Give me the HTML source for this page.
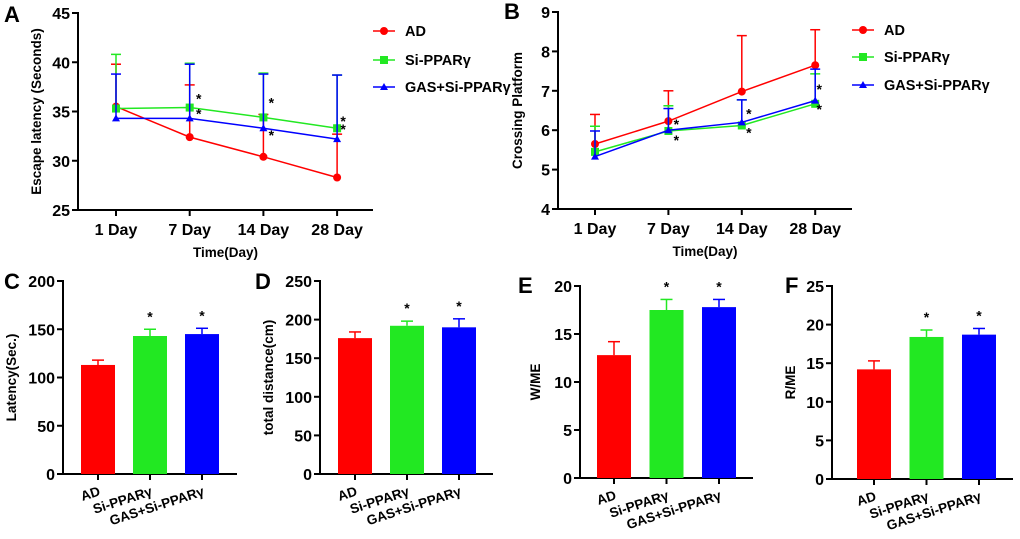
<!DOCTYPE html>
<html><head><meta charset="utf-8"><style>
body{margin:0;background:#fff;}
svg{display:block;font-family:"Liberation Sans",Arial,sans-serif;font-weight:bold;}
</style></head><body>
<svg id="fig" width="1020" height="539" viewBox="0 0 1020 539" xmlns="http://www.w3.org/2000/svg"></svg>
<script>
// ---- data ----
const days = ["1 Day","7 Day","14 Day","28 Day"];
const seriesNames = ["AD","Si-PPARγ","GAS+Si-PPARγ"];
const colors = ["#ff0000","#22e822","#0000ff"];
const aAD = [35.5,32.4,30.4,28.3];
const aADErr = [39.8,37.7,34.7,32.7];
const aSi = [35.3,35.4,34.4,33.3];
const aSiErr = [40.8,39.9,38.9,38.7];
const aGAS = [34.3,34.3,33.3,32.2];
const aGASErr = [38.8,39.8,38.8,38.7];
const aTicks = [25,30,35,40,45];
const bAD = [5.65,6.23,6.98,7.65];
const bADErr = [6.4,7.0,8.4,8.55];
const bSi = [5.45,5.98,6.12,6.67];
const bSiErr = [6.1,6.62,6.77,7.43];
const bGAS = [5.33,6.0,6.2,6.75];
const bGASErr = [5.98,6.55,6.77,7.55];
const bTicks = [4,5,6,7,8,9];
const groups = ["AD","Si-PPARγ","GAS+Si-PPARγ"];
const cVals = [113,143,145], cErr = [118,150,151], cTicks=[0,50,100,150,200];
const dVals = [176,192,190], dErr = [184,198,201], dTicks=[0,50,100,150,200,250];
const eVals = [12.8,17.5,17.8], eErr = [14.2,18.6,18.6], eTicks=[0,5,10,15,20];
const fVals = [14.2,18.4,18.7], fErr = [15.3,19.3,19.5], fTicks=[0,5,10,15,20,25];

const svg = document.getElementById('fig');
const NS = "http://www.w3.org/2000/svg";
function el(tag, attrs, parent, text){
  const e = document.createElementNS(NS, tag);
  for (const k in attrs) e.setAttribute(k, attrs[k]);
  if (text !== undefined) e.textContent = text;
  (parent||svg).appendChild(e);
  return e;
}
function txt(x,y,s,size,anchor,parent,extra){
  const t = el('text',Object.assign({x:x,y:y,'font-size':size,'text-anchor':anchor||'middle',fill:'#000'},extra||{}),parent,s);
  return t;
}
function axes(g,x0,x1,yTop,yBot,ticks,scale,fs){
  const ax = el('g',{},g);
  
  
  el('line',{x1:x0,y1:yTop-1,x2:x0,y2:yBot,stroke:'#000','stroke-width':2},ax);
  ticks.forEach(v=>{
    const y=scale(v);
    el('line',{x1:x0-6,y1:y,x2:x0,y2:y,stroke:'#000','stroke-width':2},ax);
    const t=txt(x0-8,y+6,String(v),fs,'end',ax);
    
    
  });
  const xa = el('line',{x1:x0,y1:yBot,x2:x1,y2:yBot,stroke:'#000','stroke-width':2},g);
  
  
}
function star(x,y,g){
  const s=txt(x,y,'*',14,'middle',g);
  
  
}
function marker(type,x,y,c,g){
  let m;
  if(type===0) m=el('circle',{cx:x,cy:y,r:4,fill:c},g);
  else if(type===1) m=el('rect',{x:x-4,y:y-4,width:8,height:8,fill:c},g);
  else m=el('polygon',{points:`${x},${y-4} ${x-4},${y+3} ${x+4},${y+3}`,fill:c},g);
  return m;
}
function lineChart(cfg){
  const g=el('g',{});
  
  
  const sy=v=>cfg.yBot-(v-cfg.ticks[0])/(cfg.ticks[cfg.ticks.length-1]-cfg.ticks[0])*(cfg.yBot-cfg.yTop);
  const sx=i=>cfg.xs0+i*cfg.dx;
  axes(g,cfg.x0,cfg.x1,cfg.yTop,cfg.yBot,cfg.ticks,sy,16);
  days.forEach((d,i)=>{
    el('line',{x1:sx(i),y1:cfg.yBot,x2:sx(i),y2:cfg.yBot+6,stroke:'#000','stroke-width':2},g);
    const t=txt(sx(i),cfg.yBot+25,d,16,'middle',g);
    
    
  });
  const xt=txt((cfg.x0+cfg.x1)/2,cfg.yBot+47,'Time(Day)',13.5,'middle',g);
  
  
  const yt=txt(0,0,cfg.ytitle,13.5,'middle',g,{transform:`translate(${cfg.ytx},${(cfg.yTop+cfg.yBot)/2}) rotate(-90)`});
  
  
  cfg.series.forEach((s,k)=>{
    const sg=el('g',{},g);
    
    
    s.v.forEach((v,i)=>{
      el('line',{x1:sx(i),y1:sy(v),x2:sx(i),y2:sy(s.e[i]),stroke:colors[k],'stroke-width':1.5},sg);
      el('line',{x1:sx(i)-5,y1:sy(s.e[i]),x2:sx(i)+5,y2:sy(s.e[i]),stroke:colors[k],'stroke-width':1.5},sg);
    });
    el('polyline',{points:s.v.map((v,i)=>sx(i)+','+sy(v)).join(' '),fill:'none',stroke:colors[k],'stroke-width':1.5},sg);
    s.v.forEach((v,i)=>{
      const m=marker(k,sx(i),sy(v),colors[k],sg);
      
      
    });
  });
  cfg.stars.forEach(st=>star(sx(st[0])+st[1],sy(st[2])+st[3],g));
  seriesNames.forEach((n,k)=>{
    const lg=el('g',{},g);
    
    
    const y=cfg.legY[k];
    el('line',{x1:cfg.legX,y1:y,x2:cfg.legX+22,y2:y,stroke:colors[k],'stroke-width':1.5},lg);
    marker(k,cfg.legX+11,y,colors[k],lg);
    txt(cfg.legX+32,y+5,n,14.5,'start',lg);
  });
  const L=txt(cfg.lx,cfg.ly,cfg.letter,22,'start',g);
  
  
}
function barChart(cfg){
  const g=el('g',{});
  
  
  const top=cfg.ticks[cfg.ticks.length-1];
  const sy=v=>cfg.yBot-v/top*(cfg.yBot-cfg.yTop);
  const bw=34;
  const cx=i=>cfg.b0+bw/2+i*cfg.db;
  axes(g,cfg.x0,cfg.x1,cfg.yTop,cfg.yBot,cfg.ticks,sy,16);
  cfg.vals.forEach((v,i)=>{
    const b=el('rect',{x:cx(i)-bw/2,y:sy(v),width:bw,height:cfg.yBot-sy(v),fill:colors[i]},g);
    
    
    el('line',{x1:cx(i),y1:sy(v),x2:cx(i),y2:sy(cfg.err[i]),stroke:colors[i],'stroke-width':1.5},g);
    el('line',{x1:cx(i)-6,y1:sy(cfg.err[i]),x2:cx(i)+6,y2:sy(cfg.err[i]),stroke:colors[i],'stroke-width':1.5},g);
    el('line',{x1:cx(i),y1:cfg.yBot,x2:cx(i),y2:cfg.yBot+6,stroke:'#000','stroke-width':2},g);
    const t=txt(0,0,groups[i],13.5,'end',g,{transform:`translate(${cx(i)+3},${cfg.yBot+21}) rotate(-18)`});
    
    
    if(i>0) star(cx(i),sy(cfg.err[i])-8,g);
  });
  const yt=txt(0,0,cfg.ytitle,13.5,'middle',g,{transform:`translate(${cfg.ytx},${(cfg.yTop+cfg.yBot)/2}) rotate(-90)`});
  
  
  const L=txt(cfg.lx,cfg.ly,cfg.letter,22,'start',g);
  
  
}
lineChart({name:'panel-a-escape-latency',letter:'A',lx:4,ly:22,x0:78,x1:373,yTop:13,yBot:210,ticks:aTicks,xs0:116,dx:73.7,
  ytitle:'Escape latency  (Seconds)',ytx:41,
  series:[{v:aAD,e:aADErr},{v:aSi,e:aSiErr},{v:aGAS,e:aGASErr}],
  stars:[[1,9,aSi[1],-4],[1,9,aGAS[1],0],[2,8,aSi[2],-10],[2,8,aGAS[2],12],[3,6,aSi[3],-2],[3,6,aGAS[3],-5]],
  legY:[31,60,87],legX:373});
lineChart({name:'panel-b-crossing-platform',letter:'B',lx:504,ly:19,x0:558,x1:852,yTop:12,yBot:209,ticks:bTicks,xs0:595,dx:73.4,
  ytitle:'Crossing Platform',ytx:522,
  series:[{v:bAD,e:bADErr},{v:bSi,e:bSiErr},{v:bGAS,e:bGASErr}],
  stars:[[1,8,bAD[1],8],[1,8,bSi[1],14],[2,7,bGAS[2],-4],[2,7,bSi[2],12],[3,4,bSiErr[3],20],[3,4,bSi[3],10]],
  legY:[30,57,85],legX:852});
barChart({name:'panel-c-latency',letter:'C',lx:4,ly:289,x0:63,x1:237,yTop:281,yBot:474,ticks:cTicks,vals:cVals,err:cErr,b0:81,db:52,ytitle:'Latency(Sec.)',ytx:16});
barChart({name:'panel-d-total-distance',letter:'D',lx:255,ly:289,x0:320,x1:493,yTop:281,yBot:474,ticks:dTicks,vals:dVals,err:dErr,b0:338,db:52,ytitle:'total distance(cm)',ytx:273});
barChart({name:'panel-e-w-me',letter:'E',lx:518,ly:293,x0:580,x1:753,yTop:286,yBot:478,ticks:eTicks,vals:eVals,err:eErr,b0:597,db:52.5,ytitle:'W/ME',ytx:540});
barChart({name:'panel-f-r-me',letter:'F',lx:785,ly:293,x0:832,x1:1013,yTop:286,yBot:479,ticks:fTicks,vals:fVals,err:fErr,b0:857,db:52.5,ytitle:'R/ME',ytx:795});
</script>
</body></html>
